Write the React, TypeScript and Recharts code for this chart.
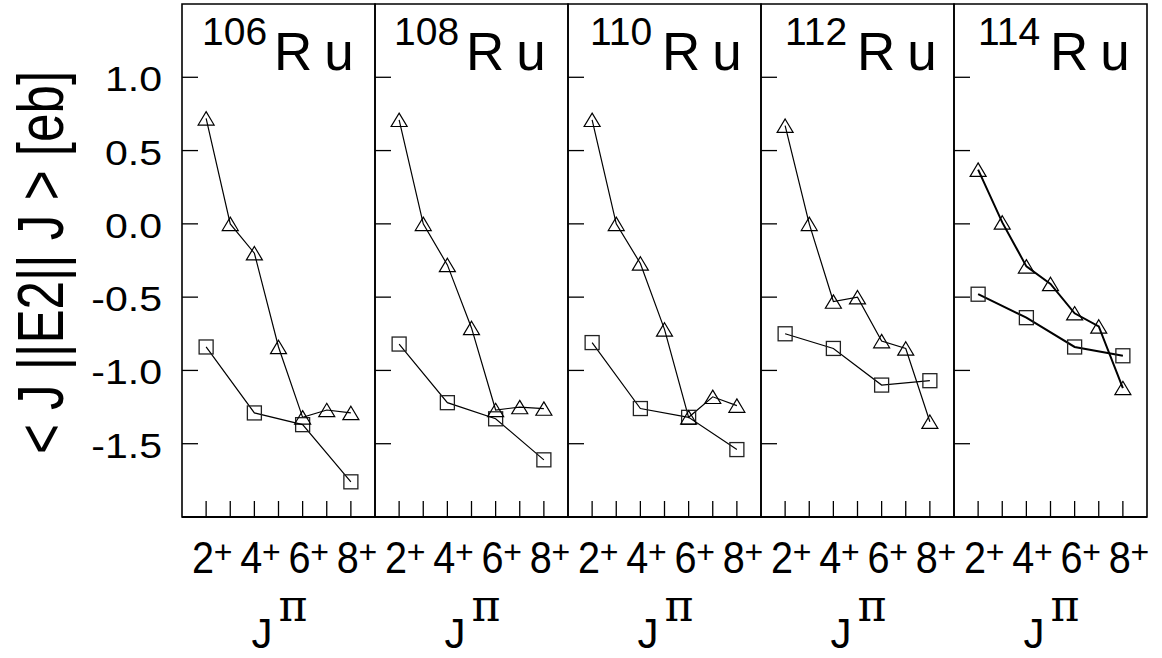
import React from 'react';
import { LineChart, Line, XAxis, YAxis, ReferenceArea } from 'recharts';

// ---------- data ----------
const NUCLEI = ['106', '108', '110', '112', '114'];
const SPINS = [2, 3, 4, 5, 6, 7, 8];
const EVEN_SPINS = [2, 4, 6, 8];
const Y_TICKS = [-1.5, -1.0, -0.5, 0.0, 0.5, 1.0];

// triangles: J = 2..8 (all spins)
const TRI_106 = [0.72, 0.0, -0.2, -0.84, -1.32, -1.27, -1.29];
const TRI_108 = [0.71, 0.0, -0.28, -0.71, -1.27, -1.25, -1.26];
const TRI_110 = [0.71, 0.0, -0.27, -0.72, -1.32, -1.18, -1.24];
const TRI_112 = [0.67, 0.0, -0.53, -0.5, -0.8, -0.85, -1.35];
const TRI_114 = [0.37, 0.01, -0.29, -0.41, -0.61, -0.7, -1.12];

// squares: J = 2,4,6,8
const SQ_106 = [-0.84, -1.29, -1.37, -1.76];
const SQ_108 = [-0.82, -1.22, -1.33, -1.61];
const SQ_110 = [-0.81, -1.26, -1.32, -1.54];
const SQ_112 = [-0.75, -0.85, -1.1, -1.07];
const SQ_114 = [-0.48, -0.64, -0.84, -0.9];

const TRI_SERIES = [TRI_106, TRI_108, TRI_110, TRI_112, TRI_114];
const SQ_SERIES = [SQ_106, SQ_108, SQ_110, SQ_112, SQ_114];

const Y_TITLE = '< J ||E2|| J > [eb]';
const X_TITLE_MAIN = 'J';
const X_TITLE_SUP = 'π';

// ---------- layout / style ----------
const FONT = '"Liberation Sans", Arial, Helvetica, sans-serif';
const SERIF = '"DejaVu Serif", "Liberation Serif", serif';
const PANEL_LEFT = [182, 375, 568, 761, 954];
const PANEL_W = 193;
const H = 658;
const PLOT_TOP = 4;
const X_AXIS_H = 141;
const LINE_W = [1.2, 1.2, 1.2, 1.2, 2];
const TITLE_DX = [20, 19, 22, 24, 24];

function XTick(props: any) {
  const { x, y, payload } = props;
  const v = payload.value;
  const even = v % 2 === 0;
  return (
    <g>
      <line x1={x} x2={x} y1={y} y2={y - 16} stroke="#000" strokeWidth={1.3} />
      {even && (
        <g transform={`translate(${x - 3},${y + 56}) scale(0.9,1)`}>
          <text x={0} y={0} textAnchor="middle" fontSize={44} fontFamily={FONT} fill="#000">
            {String(v)}
          </text>
        </g>
      )}
      {even && (
        <text x={x + 17} y={y + 46} textAnchor="middle" fontSize={32} fontFamily={FONT} fill="#000">
          +
        </text>
      )}
    </g>
  );
}

function makeYTick(showLabel: boolean) {
  return (props: any) => {
    const { x, y, payload } = props;
    const v = Number(payload.value);
    return (
      <g>
        <line x1={x} x2={x + 16} y1={y} y2={y} stroke="#000" strokeWidth={1.3} />
        {showLabel && (
          <g transform={`translate(${x - 20},${y + 14}) scale(1.14,1)`}>
            <text x={0} y={0} textAnchor="end" fontSize={36} fontFamily={FONT} fill="#000">
              {v.toFixed(1)}
            </text>
          </g>
        )}
      </g>
    );
  };
}

const TriangleDot = (p: any) => {
  const { cx, cy, index } = p;
  if (cx == null || cy == null) return <g key={`t${index}`} />;
  return (
    <path
      key={`t${index}`}
      d={`M${cx},${cy - 6.7} L${cx + 8},${cy + 6.7} L${cx - 8},${cy + 6.7} Z`}
      fill="none"
      stroke="#000"
      strokeWidth={1.2}
    />
  );
};

const SquareDot = (p: any) => {
  const { cx, cy, index } = p;
  if (cx == null || cy == null) return <g key={`s${index}`} />;
  return (
    <rect
      key={`s${index}`}
      x={cx - 7}
      y={cy - 7}
      width={14}
      height={14}
      fill="none"
      stroke="#222"
      strokeWidth={1.3}
    />
  );
};

function Panel({ i }: { i: number }) {
  const first = i === 0;
  const yw = first ? PANEL_LEFT[0] : 2;
  const left = first ? 0 : PANEL_LEFT[i] - 2;
  const width = yw + PANEL_W + 2;
  const tri = SPINS.map((s, k) => ({ x: s, y: TRI_SERIES[i][k] }));
  const sq = EVEN_SPINS.map((s, k) => ({ x: s, y: SQ_SERIES[i][k] }));
  return (
    <div style={{ position: 'absolute', left, top: 0, width, height: H }}>
      <LineChart width={width} height={H} margin={{ top: PLOT_TOP, right: 2, left: 0, bottom: 0 }}>
        <XAxis
          type="number"
          dataKey="x"
          domain={[1, 9]}
          ticks={SPINS}
          interval={0}
          allowDataOverflow
          height={X_AXIS_H}
          tickSize={0}
          tickMargin={0}
          tick={XTick}
          axisLine={{ stroke: '#000', strokeWidth: 2 }}
          tickLine={false}
        />
        <YAxis
          type="number"
          domain={[-2, 1.5]}
          ticks={Y_TICKS}
          interval={0}
          allowDataOverflow
          width={yw}
          tickSize={0}
          tickMargin={0}
          tick={makeYTick(first)}
          axisLine={false}
          tickLine={false}
        />
        <ReferenceArea
          x1={1}
          x2={9}
          y1={-2}
          y2={1.5}
          fill="none"
          fillOpacity={0}
          stroke="#000"
          strokeWidth={1.6}
          ifOverflow="visible"
        />
        <Line
          data={sq}
          dataKey="y"
          type="linear"
          stroke="#000"
          strokeWidth={LINE_W[i]}
          dot={SquareDot}
          activeDot={false}
          isAnimationActive={false}
        />
        <Line
          data={tri}
          dataKey="y"
          type="linear"
          stroke="#000"
          strokeWidth={LINE_W[i]}
          dot={TriangleDot}
          activeDot={false}
          isAnimationActive={false}
        />
      </LineChart>
    </div>
  );
}

export default function App() {
  return (
    <div style={{ position: 'absolute', left: 0, top: 0, width: 1162, height: H, background: '#fff', overflow: 'hidden' }}>
      {NUCLEI.map((_, i) => (
        <Panel key={i} i={i} />
      ))}
      <svg
        width={1162}
        height={H}
        style={{ position: 'absolute', left: 0, top: 0, pointerEvents: 'none' }}
      >
        <g transform="translate(63,262.5) rotate(-90) scale(0.8,1)">
          <text x={0} y={0} textAnchor="middle" fontSize={64} fontFamily={FONT} fill="#000">
            {Y_TITLE}
          </text>
        </g>
        {NUCLEI.map((n, i) => {
          const L = PANEL_LEFT[i];
          const cx = L + PANEL_W / 2;
          return (
            <g key={n}>
              <text x={L + TITLE_DX[i]} y={45} fontSize={39} fontFamily={FONT} fill="#000">
                {n}
              </text>
              <text
                x={L + TITLE_DX[i] + 72}
                y={70}
                fontSize={53}
                fontFamily={FONT}
                letterSpacing={12}
                fill="#000"
              >
                Ru
              </text>
              <text x={cx - 27} y={648} fontSize={42} fontFamily={FONT} fill="#000">
                {X_TITLE_MAIN}
              </text>
              <text x={cx} y={621} fontSize={44} fontFamily={SERIF} fill="#000">
                {X_TITLE_SUP}
              </text>
            </g>
          );
        })}
      </svg>
    </div>
  );
}
